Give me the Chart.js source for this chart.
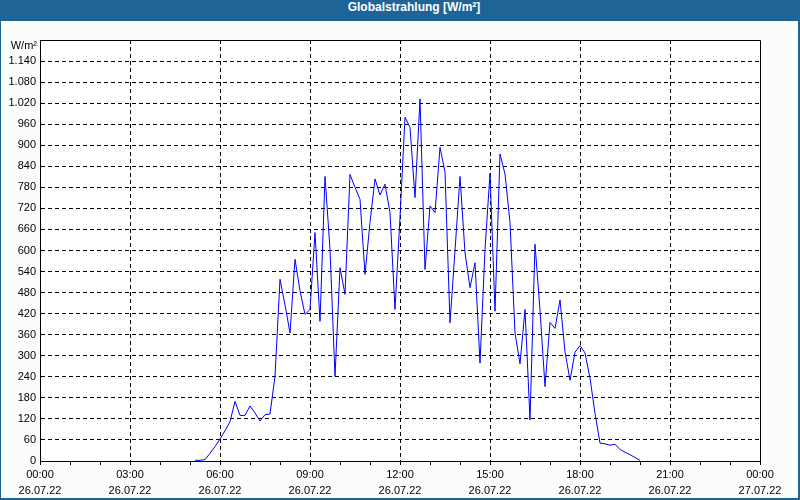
<!DOCTYPE html>
<html>
<head>
<meta charset="utf-8">
<script src="https://cdn.jsdelivr.net/npm/chart.js@4.4.1/dist/chart.umd.min.js"></script>
<style>
  html, body { margin: 0; padding: 0; background: #ffffff; }
  #frame { position: relative; width: 800px; height: 500px; background: #1f6497; overflow: hidden; }
  #title { position: absolute; left: 0; top: 0; width: 800px; height: 21px; line-height: 21px;
           color: #ffffff; font: bold 12px 'Liberation Sans', Arial, sans-serif; text-align: center;
           padding-left: 28px; box-sizing: border-box; }
  #chart { position: absolute; left: 1px; top: 21px; background: #fbfdfc; }
  #unit { position: absolute; left: 0; top: 39px; width: 37px; text-align: right;
          font: 11px 'Liberation Sans', Arial, sans-serif; color: #000; line-height: 13px; }
</style>
</head>
<body>
<div id="frame">
  <div id="title">Globalstrahlung [W/m²]</div>
  <canvas id="chart" width="797" height="477"></canvas>
  <div id="unit">W/m²</div>
</div>
<script>
// ---- data ----
const times = [
  "05:10","05:20","05:30","05:40","05:50","06:00","06:10","06:20","06:30","06:40","06:50",
  "07:00","07:10","07:20","07:30","07:40","07:50","08:00","08:10","08:20","08:30","08:40","08:50",
  "09:00","09:10","09:20","09:30","09:40","09:50","10:00","10:10","10:20","10:30","10:40","10:50",
  "11:00","11:10","11:20","11:30","11:40","11:50","12:00","12:10","12:20","12:30","12:40","12:50",
  "13:00","13:10","13:20","13:30","13:40","13:50","14:00","14:10","14:20","14:30","14:40","14:50",
  "15:00","15:10","15:20","15:30","15:40","15:50","16:00","16:10","16:20","16:30","16:40","16:50",
  "17:00","17:10","17:20","17:30","17:40","17:50","18:00","18:10","18:20","18:30","18:40","18:50",
  "19:00","19:10","19:20","19:30","19:40","19:50","20:00"
];
const globalRadiation = [
  2, 2, 4, 22, 41, 63, 86, 112, 170, 130, 130,
  157, 137, 114, 132, 134, 241, 518, 445, 365, 575, 485, 418,
  432, 651, 398, 811, 603, 241, 551, 475, 817, 780, 746, 532,
  680, 804, 758, 789, 708, 432, 694, 980, 951, 751, 1032, 546,
  727, 708, 894, 823, 394, 600, 811, 594, 494, 565, 279, 603,
  820, 427, 875, 818, 680, 365, 277, 432, 117, 618, 430, 212,
  395, 378, 459, 312, 230, 310, 329, 308, 236, 136, 51, 49,
  45, 48, 33, 25, 18, 10, 2
];
const xTickHours = [0, 3, 6, 9, 12, 15, 18, 21, 24];
const xTickTimes = ["00:00","03:00","06:00","09:00","12:00","15:00","18:00","21:00","00:00"];
const xTickDates = ["26.07.22","26.07.22","26.07.22","26.07.22","26.07.22","26.07.22","26.07.22","26.07.22","27.07.22"];
const yMax = 1200;
const yStep = 60;

// ---- helpers ----
function toHours(t) { const p = t.split(":"); return Number(p[0]) + Number(p[1]) / 60; }
function fmtDe(v) {
  return v >= 1000 ? Math.floor(v / 1000) + "." + String(v % 1000).padStart(3, "0") : String(v);
}
const points = times.map((t, i) => ({ x: toHours(t), y: globalRadiation[i] }));

const FONT = { family: "'Liberation Sans', Arial, sans-serif", size: 11 };

const framePlugin = {
  id: "frame",
  beforeDraw(chart) {
    const { ctx, chartArea: a } = chart;
    ctx.save();
    ctx.fillStyle = "#ffffff";
    ctx.fillRect(a.left, a.top, a.right - a.left, a.bottom - a.top);
    ctx.restore();
  },
  afterDraw(chart) {
    const { ctx, chartArea: a } = chart;
    ctx.save();
    ctx.strokeStyle = "#000";
    ctx.lineWidth = 1;
    ctx.setLineDash([]);
    const l = Math.round(a.left) + 0.5, t = Math.round(a.top) + 0.5;
    const r = Math.round(a.right) + 0.5, b = Math.round(a.bottom) + 0.5;
    ctx.beginPath();
    ctx.moveTo(l, t); ctx.lineTo(r, t); ctx.lineTo(r, b);
    ctx.stroke();
    ctx.restore();
  }
};

new Chart(document.getElementById("chart"), {
  type: "line",
  data: {
    datasets: [{
      data: points,
      borderColor: "#0000ff",
      borderWidth: 1,
      pointRadius: 0,
      pointHoverRadius: 0,
      tension: 0,
      fill: false
    }]
  },
  options: {
    responsive: false,
    animation: false,
    events: [],
    layout: { padding: { top: 19, right: 38, left: 0, bottom: 0 } },
    plugins: { legend: { display: false }, title: { display: false }, tooltip: { enabled: false } },
    scales: {
      x: {
        type: "linear",
        min: 0, max: 24,
        afterFit(s) { s.height = 37; },
        ticks: {
          stepSize: 1,
          autoSkip: false,
          maxRotation: 0,
          padding: 2,
          color: "#000",
          font: { ...FONT, lineHeight: 1.45 },
          callback(v) {
            const i = xTickHours.indexOf(v);
            return i >= 0 ? [xTickTimes[i], xTickDates[i]] : "";
          }
        },
        grid: {
          color(ctx) {
            const v = ctx.tick ? ctx.tick.value : null;
            return (v !== null && v % 3 === 0 && v > 0 && v < 24) ? "#000" : "rgba(0,0,0,0)";
          },
          lineWidth: 1,
          drawTicks: true,
          tickLength: 4,
          tickColor: "#000",
          tickBorderDash: []
        },
        border: { display: true, color: "#000", width: 1, dash: [4, 3] }
      },
      y: {
        min: 0, max: yMax,
        afterFit(s) { s.width = 39; },
        ticks: {
          stepSize: yStep,
          autoSkip: false,
          padding: 4,
          color: "#000",
          font: FONT,
          callback(v) { return v >= yMax ? "" : fmtDe(v); }
        },
        grid: {
          color(ctx) {
            const v = ctx.tick ? ctx.tick.value : null;
            return (v !== null && v > 0 && v < yMax) ? "#000" : "rgba(0,0,0,0)";
          },
          lineWidth: 1,
          drawTicks: false
        },
        border: { display: true, color: "#000", width: 1, dash: [4, 3] }
      }
    }
  },
  plugins: [framePlugin]
});
</script>
</body>
</html>
